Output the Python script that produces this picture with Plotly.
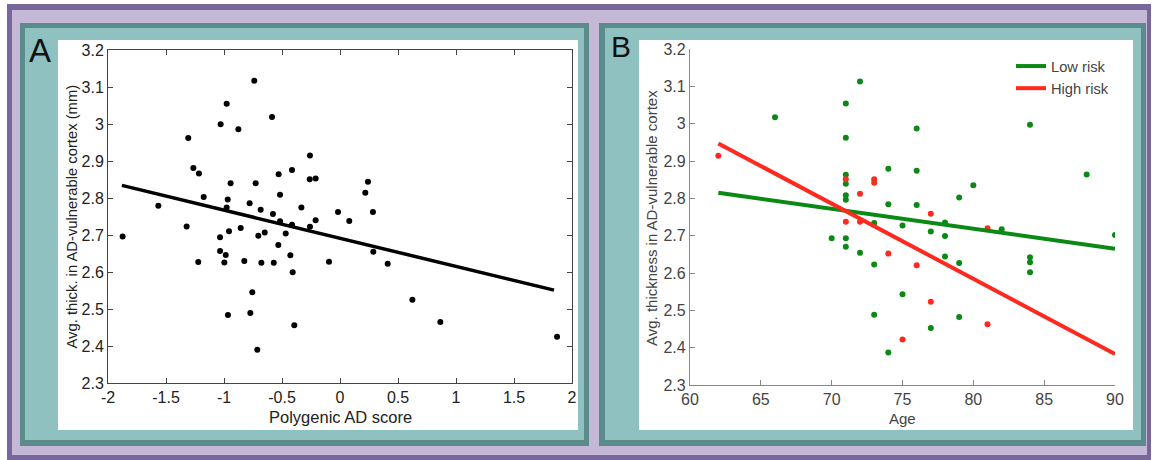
import plotly.graph_objects as go

# ---------------- Data ----------------
# Panel A: polygenic AD score vs avg. thickness
score = [-1.874, -1.566, -1.322, -1.308, -1.264, -1.216, -1.222, -1.175, -1.034, -1.034,
         -1.029, -0.997, -0.985, -0.977, -0.968, -0.977, -0.966, -0.957, -0.943, -0.876,
         -0.856, -0.825, -0.779, -0.773, -0.756, -0.739, -0.727, -0.713, -0.704, -0.684,
         -0.678, -0.649, -0.586, -0.578, -0.571, -0.532, -0.529, -0.517, -0.517, -0.468,
         -0.428, -0.414, -0.414, -0.408, -0.394, -0.333, -0.259, -0.261, -0.210, -0.259,
         -0.210, -0.095, -0.017, 0.080, 0.218, 0.241, 0.284, 0.287, 0.411, 0.624,
         0.865, 1.871]
thick_a = [2.696, 2.779, 2.723, 2.962, 2.881, 2.866, 2.627, 2.803, 2.694, 2.657,
           2.999, 2.626, 2.646, 3.055, 2.796, 2.774, 2.484, 2.710, 2.840, 2.986,
           2.719, 2.630, 2.786, 2.489, 2.545, 3.117, 2.840, 2.390, 2.698, 2.768,
           2.625, 2.707, 3.019, 2.757, 2.625, 2.673, 2.864, 2.809, 2.737, 2.704,
           2.645, 2.876, 2.728, 2.599, 2.456, 2.774, 2.915, 2.851, 2.853, 2.722,
           2.740, 2.628, 2.762, 2.738, 2.814, 2.844, 2.762, 2.655, 2.622, 2.525,
           2.465, 2.425]
fit_a_x = [-1.88, 1.845]
fit_a_y = [2.834, 2.551]

# Panel B: age vs avg. thickness, by risk group
low_age = [66, 71, 72, 71, 71, 71, 71, 71, 74, 76, 76, 74, 76, 84, 88, 80, 79, 73, 75, 77,
           70, 71, 71, 72, 73, 75, 73, 77, 74, 78, 78, 82, 90, 78, 79, 84, 84, 84, 79]
low_thick = [3.017, 3.054, 3.113, 2.962, 2.863, 2.839, 2.808, 2.796, 2.879, 2.987,
             2.874, 2.784, 2.782, 2.997, 2.864, 2.835, 2.802, 2.734, 2.727, 2.711,
             2.693, 2.693, 2.670, 2.654, 2.623, 2.543, 2.488, 2.453, 2.387, 2.735,
             2.699, 2.717, 2.702, 2.644, 2.627, 2.642, 2.629, 2.602, 2.482]
high_age = [62, 71, 72, 73, 73, 77, 71, 72, 74, 76, 77, 75, 81, 81]
high_thick = [2.914, 2.851, 2.812, 2.851, 2.842, 2.759, 2.737, 2.737, 2.652, 2.621,
              2.523, 2.422, 2.720, 2.463]
low_fit_x = [62, 90]
low_fit_y = [2.815, 2.665]
high_fit_x = [62, 90]
high_fit_y = [2.947, 2.383]

a_xticks = [-2, -1.5, -1, -0.5, 0, 0.5, 1, 1.5, 2]
a_xtext = ["-2", "-1.5", "-1", "-0.5", "0", "0.5", "1", "1.5", "2"]
y_ticks = [2.3, 2.4, 2.5, 2.6, 2.7, 2.8, 2.9, 3.0, 3.1, 3.2]
y_text = ["2.3", "2.4", "2.5", "2.6", "2.7", "2.8", "2.9", "3", "3.1", "3.2"]
b_xticks = [60, 65, 70, 75, 80, 85, 90]

# ---------------- Layout helpers ----------------
W, H = 1152, 460
FONT = "Liberation Sans, Arial, Helvetica, sans-serif"
GREEN = "#0a8a14"
RED = "#ff2a1f"


def px(x):
    return x / W


def py(y):
    return 1 - y / H


def rect(x0, y0, x1, y1, color):
    return dict(type="rect", xref="paper", yref="paper", x0=px(x0), x1=px(x1),
                y0=py(y1), y1=py(y0), fillcolor=color, line=dict(width=0), layer="below")


fig = go.Figure()

# Panel A traces
fig.add_trace(go.Scatter(x=score, y=thick_a, mode="markers", xaxis="x", yaxis="y",
                         marker=dict(color="black", size=6), showlegend=False))
fig.add_trace(go.Scatter(x=fit_a_x, y=fit_a_y, mode="lines", xaxis="x", yaxis="y",
                         line=dict(color="black", width=3.5), showlegend=False))

# Panel B traces
fig.add_trace(go.Scatter(x=low_age, y=low_thick, mode="markers", xaxis="x2", yaxis="y2",
                         marker=dict(color=GREEN, size=6), showlegend=False))
fig.add_trace(go.Scatter(x=high_age, y=high_thick, mode="markers", xaxis="x2", yaxis="y2",
                         marker=dict(color=RED, size=6), showlegend=False))
fig.add_trace(go.Scatter(x=low_fit_x, y=low_fit_y, mode="lines", xaxis="x2", yaxis="y2",
                         line=dict(color=GREEN, width=4), name="Low risk"))
fig.add_trace(go.Scatter(x=high_fit_x, y=high_fit_y, mode="lines", xaxis="x2", yaxis="y2",
                         line=dict(color=RED, width=4), name="High risk"))

shapes = [
    rect(7, 4, 1151, 460, "#77679a"),
    rect(12, 10, 1147, 455, "#c5b8d6"),
    rect(20, 23, 589, 446, "#5b8b8b"),
    rect(25, 28, 584, 440, "#8fc1c1"),
    rect(58, 40, 578, 430, "#ffffff"),
    rect(599, 23, 1146, 446, "#5b8b8b"),
    rect(605, 28, 1141, 440, "#8fc1c1"),
    rect(639, 40, 1133, 430, "#ffffff"),
]

annotations = [
    dict(text="A", x=px(40), y=py(50), xref="paper", yref="paper", showarrow=False,
         xanchor="center", yanchor="middle", font=dict(family=FONT, size=33, color="#111")),
    dict(text="B", x=px(621), y=py(47), xref="paper", yref="paper", showarrow=False,
         xanchor="center", yanchor="middle", font=dict(family=FONT, size=30, color="#111")),
    dict(text="Polygenic AD score", x=px(340), y=py(417), xref="paper", yref="paper",
         showarrow=False, xanchor="center", yanchor="middle",
         font=dict(family=FONT, size=16.5, color="#222")),
    dict(text="Avg. thick. in AD-vulnerable cortex (mm)", x=px(71), y=py(216.5),
         xref="paper", yref="paper", showarrow=False, textangle=-90,
         xanchor="center", yanchor="middle", font=dict(family=FONT, size=14.8, color="#222")),
    dict(text="Age", x=px(902), y=py(418), xref="paper", yref="paper",
         showarrow=False, xanchor="center", yanchor="middle",
         font=dict(family=FONT, size=15, color="#444")),
    dict(text="Avg. thickness in AD-vulnerable cortex", x=px(652), y=py(218),
         xref="paper", yref="paper", showarrow=False, textangle=-90,
         xanchor="center", yanchor="middle", font=dict(family=FONT, size=15, color="#444")),
]

axA = dict(showgrid=False, zeroline=False, showline=True, linecolor="#444", linewidth=1,
           mirror="ticks", ticks="inside", ticklen=5, tickcolor="#444", automargin=False,
           tickfont=dict(family=FONT, size=16, color="#222"))
axB = dict(showgrid=False, zeroline=False, showline=True, linecolor="#888", linewidth=1.2,
           mirror=False, ticks="inside", ticklen=5, tickcolor="#888", automargin=False,
           tickfont=dict(family=FONT, size=16, color="#444"))

fig.update_layout(
    width=W, height=H, autosize=False,
    margin=dict(l=0, r=0, t=0, b=0),
    paper_bgcolor="white", plot_bgcolor="rgba(0,0,0,0)",
    font=dict(family=FONT),
    shapes=shapes, annotations=annotations,
    xaxis=dict(axA, domain=[px(108), px(572)], range=[-2, 2], tickvals=a_xticks,
               ticktext=a_xtext, anchor="y"),
    yaxis=dict(axA, domain=[py(383), py(50)], range=[2.3, 3.2], tickvals=y_ticks,
               ticktext=y_text, anchor="x"),
    xaxis2=dict(axB, domain=[px(690), px(1115)], range=[60, 90], tickvals=b_xticks,
                anchor="y2"),
    yaxis2=dict(axB, domain=[py(385), py(49)], range=[2.3, 3.2], tickvals=y_ticks,
                ticktext=y_text, anchor="x2"),
    showlegend=True,
    legend=dict(x=px(1011), y=py(50), xanchor="left", yanchor="top",
                bgcolor="rgba(0,0,0,0)", borderwidth=0, tracegroupgap=0,
                font=dict(family=FONT, size=14.7, color="#444")),
)

fig.write_html("out.html", config={"displayModeBar": False},
               post_script="document.body.style.margin='0';")
